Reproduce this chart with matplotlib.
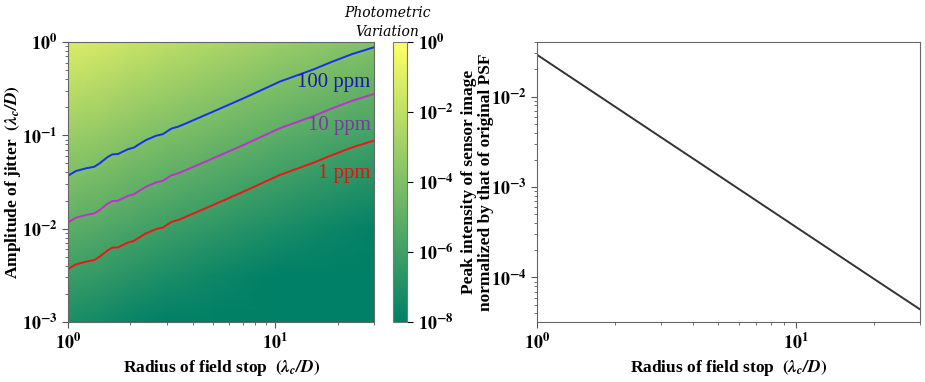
import numpy as np
import matplotlib
matplotlib.use("Agg")
import matplotlib.pyplot as plt
from matplotlib.colors import LogNorm
from matplotlib.ticker import FuncFormatter, NullFormatter

plt.rcParams['font.family'] = ['Liberation Serif', 'DejaVu Serif']
plt.rcParams['font.weight'] = 'bold'
plt.rcParams['mathtext.fontset'] = 'stix'

# ---- Left panel: contour curves (jitter amplitude vs field-stop radius)
radius = [1.0, 1.09, 1.22, 1.34, 1.42, 1.56, 1.64, 1.74, 1.94, 2.09, 2.17, 2.38,
          2.66, 2.87, 3.15, 3.4, 3.7, 5.0, 7.3, 10.5, 15.3, 18.8, 23.5, 30.0]
jitter_100ppm = [0.0369, 0.0414, 0.0443, 0.0461, 0.0501, 0.059, 0.0626, 0.0630,
                 0.0708, 0.0743, 0.0787, 0.0891, 0.099, 0.103, 0.118, 0.124,
                 0.134, 0.179, 0.259, 0.376, 0.509, 0.615, 0.743, 0.88]
jitter_10ppm = [0.01167, 0.0131, 0.0140, 0.01458, 0.01584, 0.01866, 0.0198, 0.0199,
                0.0224, 0.0235, 0.0249, 0.0282, 0.0313, 0.0326, 0.0373, 0.0392,
                0.0424, 0.0566, 0.0819, 0.119, 0.161, 0.1945, 0.235, 0.278]
jitter_1ppm = [0.00369, 0.00414, 0.00443, 0.00461, 0.00501, 0.0059, 0.00626, 0.0063,
               0.00708, 0.00743, 0.00787, 0.00891, 0.0099, 0.0103, 0.0118, 0.0124,
               0.0134, 0.0179, 0.0259, 0.0376, 0.0509, 0.0615, 0.0743, 0.088]
curve_labels = ['100 ppm', '10 ppm', '1 ppm']

# ---- Left panel: background map (log10 of photometric variation)
map_radius = [1.0, 1.42, 2.0, 3.0, 5.0, 10.0, 20.0, 30.0]
map_jitter = [1e-3, 10 ** -2.5, 1e-2, 1e-1, 1.0]
map_log_variation = [
    [-7.13, -7.40, -7.72, -8.10, -8.51, -9.11, -9.63, -9.89],
    [-6.13, -6.40, -6.72, -7.10, -7.51, -8.11, -8.63, -8.89],
    [-5.13, -5.40, -5.72, -6.10, -6.51, -7.11, -7.63, -7.89],
    [-3.13, -3.40, -3.72, -4.10, -4.51, -5.11, -5.63, -5.89],
    [-1.13, -1.40, -1.72, -2.10, -2.51, -3.11, -3.63, -3.89],
]

# ---- Right panel: peak intensity vs radius
peak_radius = [1.0, 2.0, 3.0, 5.0, 10.0, 20.0, 30.0]
peak_intensity = [0.029, 0.00774, 0.00357, 0.00135, 3.6e-4, 9.6e-5, 4.45e-5]


def pow_fmt(v, pos):
    if v <= 0:
        return ''
    e = int(round(np.log10(v)))
    if abs(np.log10(v) - e) > 1e-6:
        return ''
    return r'$\mathbf{10^{%d}}$' % e


fig = plt.figure(figsize=(9.25, 3.82), dpi=100)
ax1 = fig.add_axes([0.0735, 0.157, 0.331, 0.733])
cax = fig.add_axes([0.425, 0.157, 0.0151, 0.733])
ax2 = fig.add_axes([0.5805, 0.157, 0.414, 0.733])

X, Y = np.meshgrid(map_radius, map_jitter)
C = 10.0 ** np.array(map_log_variation)
norm = LogNorm(vmin=1e-8, vmax=1.0)
mesh = ax1.pcolormesh(X, Y, C, cmap='summer', norm=norm, shading='gouraud',
                      rasterized=True)
ax1.set_xscale('log')
ax1.set_yscale('log')
ax1.set_xlim(1, 30)
ax1.set_ylim(1e-3, 1)

line_colors = ['#1530f0', '#c030cc', '#f01515']
text_colors = ['#1a1aa8', '#7a3a9c', '#e81010']
for ys, lc in zip([jitter_100ppm, jitter_10ppm, jitter_1ppm], line_colors):
    ax1.plot(radius, ys, color=lc, lw=1.4)
label_y = [0.37, 0.126, 0.0394]
for lab, ly, tc in zip(curve_labels, label_y, text_colors):
    ax1.text(28.8, ly, lab, color=tc, fontsize=15, fontweight='normal',
             ha='right', va='center')

ax1.set_xlabel(r'Radius of field stop  $(\mathbfit{\lambda_c/D})$', fontsize=12.5,
               fontweight='bold', labelpad=4)
ax1.set_ylabel(r'Amplitude of jitter  $(\mathbfit{\lambda_c/D})$', fontsize=12.5,
               fontweight='bold')
ax1.yaxis.set_label_coords(-0.147, 0.5)

cb = fig.colorbar(mesh, cax=cax)
cb.set_ticks([1e0, 1e-2, 1e-4, 1e-6, 1e-8])
cb.ax.yaxis.set_major_formatter(FuncFormatter(pow_fmt))
cb.ax.minorticks_off()
cb.outline.set_edgecolor('#777777')
cb.ax.tick_params(labelsize=13, length=4)
fig.text(0.419, 0.967, 'Photometric', fontsize=10, style='italic',
         fontweight='normal', family='DejaVu Serif', ha='center', va='center')
fig.text(0.419, 0.917, 'Variation', fontsize=10, style='italic',
         fontweight='normal', family='DejaVu Serif', ha='center', va='center')

ax2.plot(peak_radius, peak_intensity, color='#333333', lw=1.4)
ax2.set_xscale('log')
ax2.set_yscale('log')
ax2.set_xlim(1, 30)
ax2.set_xlabel(r'Radius of field stop  $(\mathbfit{\lambda_c/D})$', fontsize=12.5,
               fontweight='bold', labelpad=4)
ax2.set_ylabel('Peak intensity of sensor image\nnormalized by that of original PSF',
               fontsize=12.5, fontweight='bold', linespacing=1.05)
ax2.yaxis.set_label_coords(-0.112, 0.5)

for ax in (ax1, ax2):
    ax.xaxis.set_major_formatter(FuncFormatter(pow_fmt))
    ax.yaxis.set_major_formatter(FuncFormatter(pow_fmt))
    ax.xaxis.set_minor_formatter(NullFormatter())
    ax.yaxis.set_minor_formatter(NullFormatter())
    ax.tick_params(which='major', labelsize=13, length=4, color='#555555')
    ax.tick_params(which='minor', length=2, color='#555555')
    for s in ax.spines.values():
        s.set_edgecolor('#666666')

fig.savefig('out.png', dpi=100)
